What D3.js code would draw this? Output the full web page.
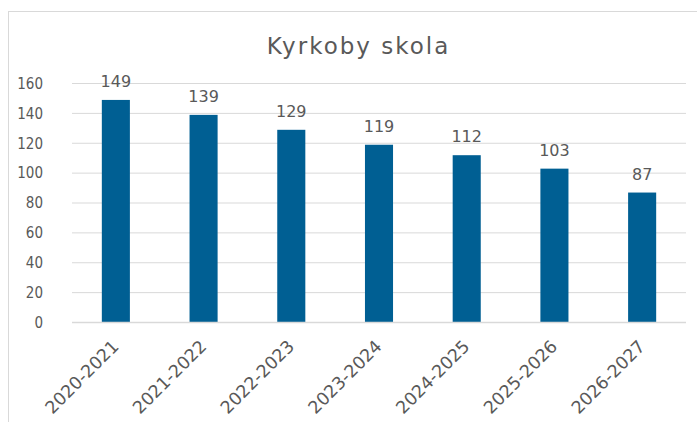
<!DOCTYPE html>
<html>
<head>
<meta charset="utf-8">
<script src="https://cdn.jsdelivr.net/npm/d3@7"></script>
<style>
  body { margin: 0; background: #fff; }
  svg text { font-family: "DejaVu Sans", Verdana, sans-serif; fill: #595959; }
</style>
</head>
<body>
<div id="container"></div>
<script>
const years = ["2020-2021", "2021-2022", "2022-2023", "2023-2024", "2024-2025", "2025-2026", "2026-2027"];
const pupils = [149, 139, 129, 119, 112, 103, 87];
const yTicks = [0, 20, 40, 60, 80, 100, 120, 140, 160];

const w = 697, h = 422;
const plotLeft = 72, plotRight = 686, plotTop = 83.5, plotBottom = 322.5;
const barColor = "#005f93";

const svg = d3.select("#container").append("svg")
  .attr("width", w).attr("height", h);

// chart frame (cut off at right and bottom like the screenshot)
svg.append("rect")
  .attr("x", 8.5).attr("y", 11.5)
  .attr("width", 720).attr("height", 430)
  .attr("fill", "#fff").attr("stroke", "#d9d9d9");

svg.append("text")
  .attr("x", 358.5).attr("y", 54)
  .attr("text-anchor", "middle")
  .attr("font-size", 23)
  .attr("letter-spacing", 2)
  .text("Kyrkoby skola");

const xScale = d3.scaleBand().domain(years).range([plotLeft, plotRight]).paddingInner(0.68).paddingOuter(0.34);
const yScale = d3.scaleLinear().domain([0, 160]).range([plotBottom, plotTop]);

// gridlines
svg.append("g").selectAll("line").data(yTicks).enter().append("line")
  .attr("x1", plotLeft).attr("x2", plotRight)
  .attr("y1", d => yScale(d)).attr("y2", d => yScale(d))
  .attr("stroke", "#d9d9d9").attr("stroke-width", 1);

const yAxis = d3.axisLeft(yScale).tickValues(yTicks).tickSize(0).tickPadding(0);
svg.append("g")
  .attr("transform", "translate(43,0)")
  .call(yAxis)
  .call(g => g.select(".domain").remove())
  .selectAll("text")
  .attr("font-size", 15)
  .style("font-family", "'Liberation Sans Narrow', 'DejaVu Sans Condensed', sans-serif")
  .attr("fill", "#595959");

svg.selectAll("rect.bar").data(pupils).enter().append("rect")
  .attr("class", "bar")
  .attr("x", (d, i) => xScale(years[i]))
  .attr("y", d => yScale(d))
  .attr("width", xScale.bandwidth())
  .attr("height", d => plotBottom - yScale(d))
  .attr("fill", barColor);

svg.selectAll("text.lbl").data(pupils).enter().append("text")
  .attr("class", "lbl")
  .attr("x", (d, i) => xScale(years[i]) + xScale.bandwidth() / 2)
  .attr("y", d => yScale(d) - 13)
  .attr("text-anchor", "middle")
  .attr("font-size", 16)
  .text(d => d);

// axis line at 0
svg.append("line")
  .attr("x1", plotLeft).attr("x2", plotRight)
  .attr("y1", plotBottom).attr("y2", plotBottom)
  .attr("stroke", "#d9d9d9").attr("stroke-width", 1.5);

const xAxis = d3.axisBottom(xScale).tickSize(0).tickPadding(0);
svg.append("g")
  .attr("transform", "translate(0," + plotBottom + ")")
  .call(xAxis)
  .call(g => g.select(".domain").remove())
  .selectAll("text")
  .attr("font-size", 17.5)
  .attr("fill", "#595959")
  .attr("text-anchor", "end")
  .attr("y", 0)
  .attr("dy", null)
  .attr("transform", "translate(4,25) rotate(-45)");
</script>
</body>
</html>
